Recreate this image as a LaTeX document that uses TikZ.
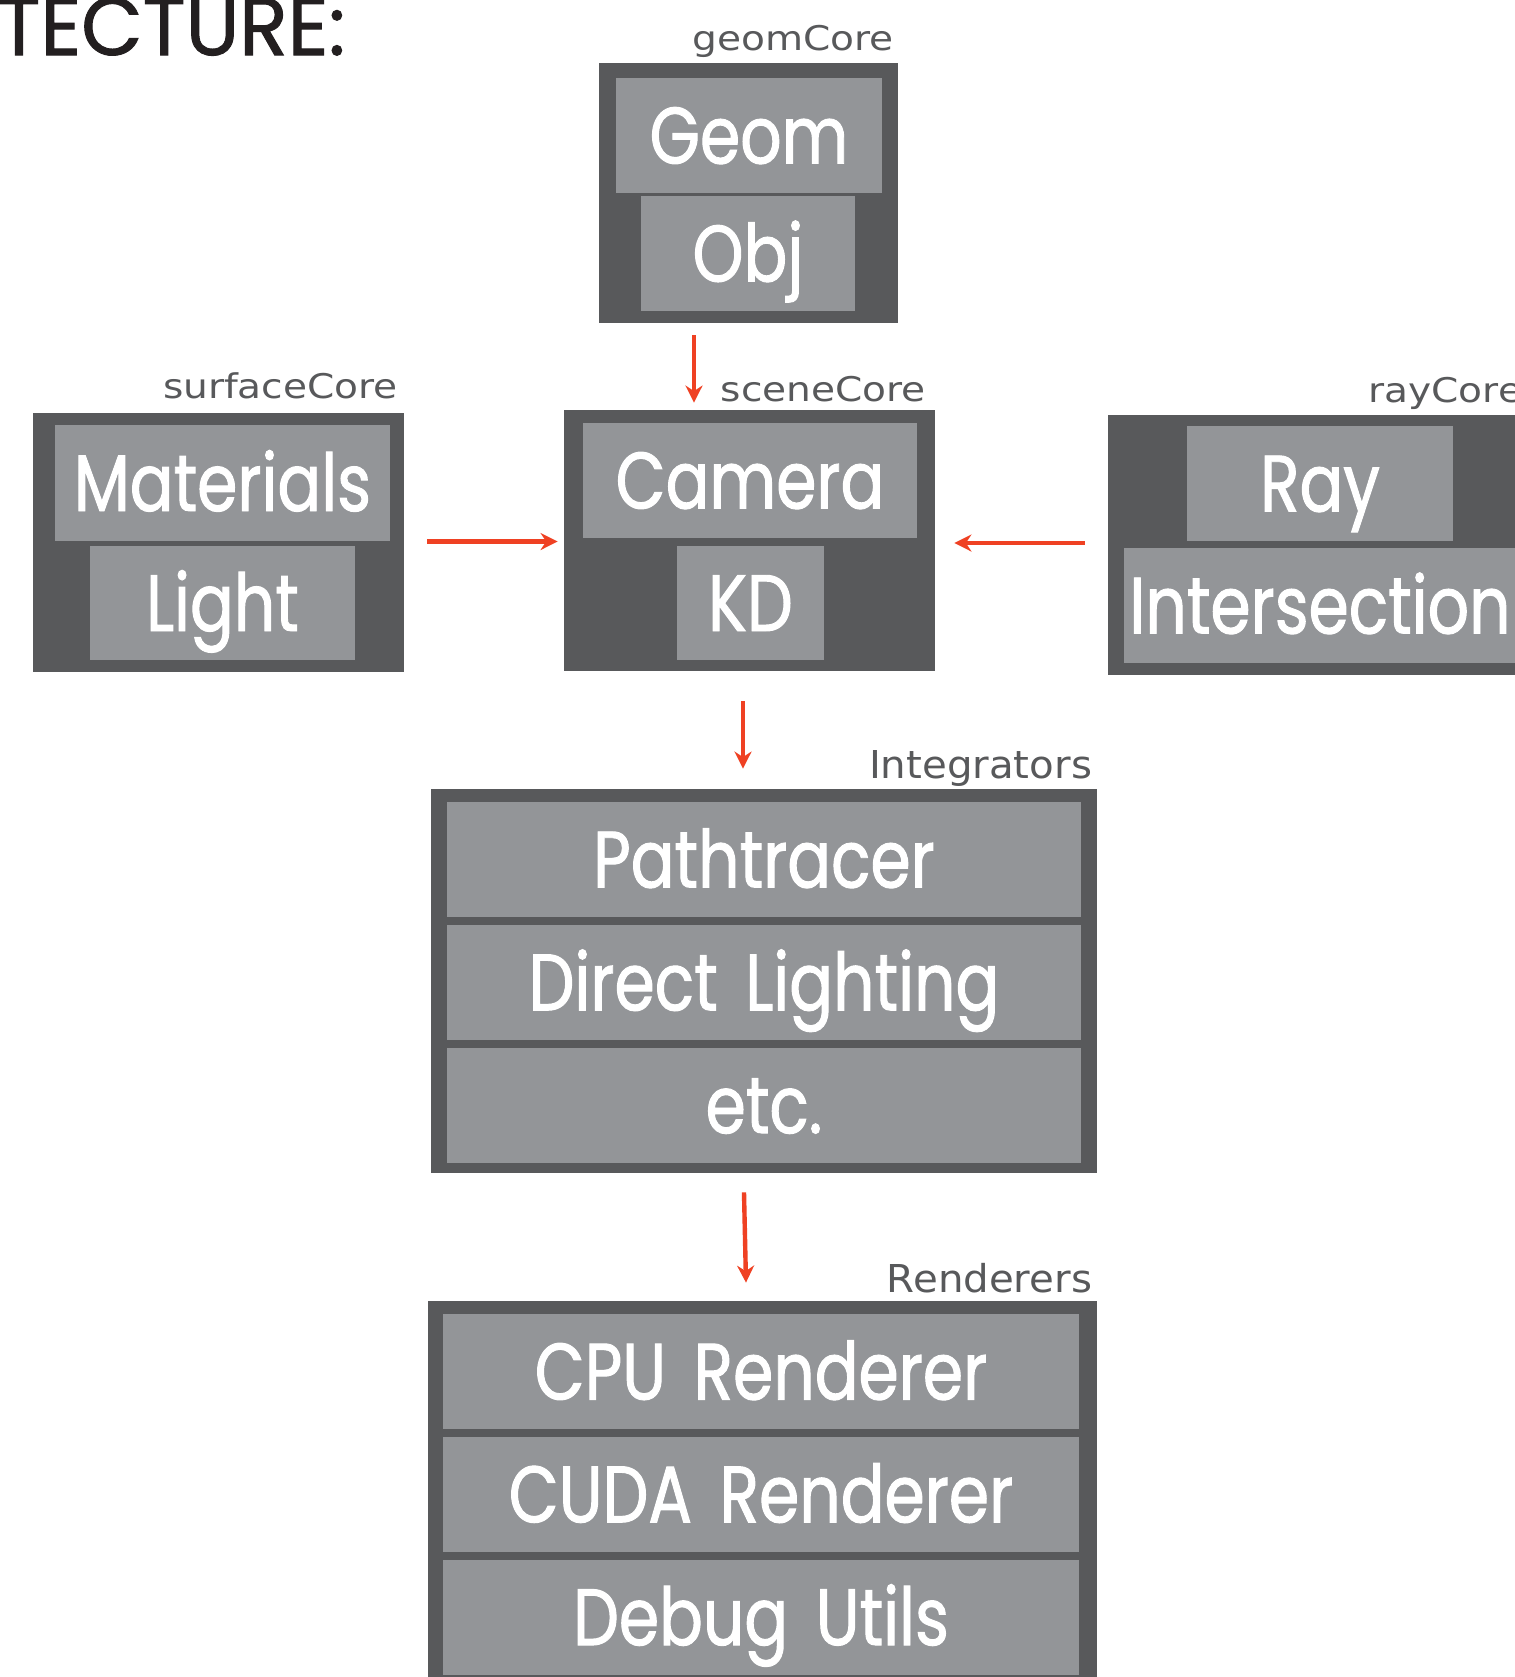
\documentclass[tikz,border=0pt]{standalone}
\usepackage{fontspec}
\usepackage{tikz}
\usetikzlibrary{arrows.meta,positioning,calc}
\newfontfamily\boxfont[FakeStretch=0.81,FakeBold=1.2,WordSpace=1.6]{Poppins}
\newfontfamily\titlefont[FakeStretch=0.97,FakeBold=1.2]{Poppins}
\newfontfamily\corefont[FakeStretch=1.15]{DejaVu Sans}
\newfontfamily\groupfont[FakeStretch=1.05]{DejaVu Sans}
\definecolor{coredark}{HTML}{58595B}
\definecolor{coregray}{HTML}{939598}
\definecolor{flowred}{HTML}{EF4123}
\definecolor{titleink}{HTML}{231F20}

\begin{document}
\begin{tikzpicture}[x=0.5pt,y=-0.5pt,>={Stealth[length=8.5pt,width=8.5pt]},
  wh/.style 2 args={minimum width=#1*0.5pt,minimum height=#2*0.5pt},
  outer/.style={fill=coredark,inner sep=0pt},
  part/.style={fill=coregray,inner sep=0pt,text=white,font=\boxfont\fontsize{40}{40}\selectfont,text height=28pt,text depth=0pt},
  corelbl/.style={text=coredark,inner sep=0pt,font=\corefont\fontsize{17}{17}\selectfont},
  grouplbl/.style={text=coredark,inner sep=0pt,font=\groupfont\fontsize{19.2}{20}\selectfont},
  flow/.style={->,draw=flowred,line width=2.2pt}]
\fill[white] (0,0) rectangle (1515,1677);
\useasboundingbox (0,0) rectangle (1515,1677);

\node[text=titleink,inner sep=0pt,anchor=base west,font=\titlefont\fontsize{41}{41}\selectfont] (title) at (-3,55) {TECTURE:};

% geomCore
\node[outer,wh={299}{260}] (geomCore) at (748.5,193) {};
\node[part,wh={266}{115}] (geom) at (749,135.5) {Geom};
\node[part,wh={214}{115}] (obj) at (748,253.5) {Obj};
\node[corelbl,anchor=base east] (geomlbl) at ($(geomCore.north east)+(-4,-12)$) {geomCore};

% surfaceCore
\node[outer,wh={371}{259}] (surfaceCore) at (218.5,542.5) {};
\node[part,wh={335}{116}] (materials) at (222.5,483) {Materials};
\node[part,wh={265}{114}] (light) at (222.5,603) {Light};
\node[corelbl,anchor=base east] (surfacelbl) at ($(surfaceCore.north east)+(-6,-14)$) {surfaceCore};

% sceneCore
\node[outer,wh={371}{261}] (sceneCore) at (749.5,540.5) {};
\node[part,wh={334}{115}] (camera) at (750,480.5) {Camera};
\node[part,wh={147}{114}] (kd) at (750.5,603) {KD};
\node[corelbl,anchor=base east] (scenelbl) at ($(sceneCore.north east)+(-9,-8)$) {sceneCore};

% rayCore
\node[outer,wh={424}{260}] (rayCore) at (1320,545) {};
\node[part,wh={266}{115}] (ray) at (1320,483.5) {Ray};
\node[part,wh={392}{115}] (isect) at (1320,605.5) {Intersection};
\node[corelbl,anchor=base west] (raylbl) at ($(rayCore.north)+(48,-12)$) {rayCore};

% Integrators
\node[outer,wh={666}{384}] (integrators) at (764,981) {};
\node[part,wh={634}{115}] (pathtracer) at (764,859.5) {Pathtracer};
\node[part,wh={634}{115},below=3.5pt of pathtracer] (direct) {Direct Lighting};
\node[part,wh={634}{115},below=3.5pt of direct] (etc) {etc.};
\node[grouplbl,anchor=base east] (integlbl) at ($(integrators.north east)+(-5,-10)$) {Integrators};

% Renderers
\node[outer,wh={669}{387}] (renderers) at (762.5,1494.5) {};
\node[part,wh={636}{115}] (cpu) at (761,1371.5) {CPU Renderer};
\node[part,wh={636}{115},below=3.5pt of cpu] (cuda) {CUDA Renderer};
\node[part,wh={636}{115},below=3.5pt of cuda] (debug) {Debug Utils};
\node[grouplbl,anchor=base east] (renderlbl) at ($(renderers.north east)+(-5,-8)$) {Renderers};

\draw[flow] ($(geomCore.south)+(-54.5,12)$) -- ($(sceneCore.north)+(-55.5,-7)$);
\draw[flow] ($(surfaceCore.east)+(23,-1)$) -- ($(sceneCore.west)+(-6,1)$);
\draw[flow] ($(rayCore.west)+(-23,-2)$) -- ($(sceneCore.east)+(19,2.5)$);
\draw[flow] ($(sceneCore.south)+(-6.5,30)$) -- ($(integrators.north)+(-21,-20)$);
\draw[flow] ($(integrators.south)+(-20,19)$) -- ($(renderers.north)+(-16.5,-18)$);
\end{tikzpicture}
\end{document}
